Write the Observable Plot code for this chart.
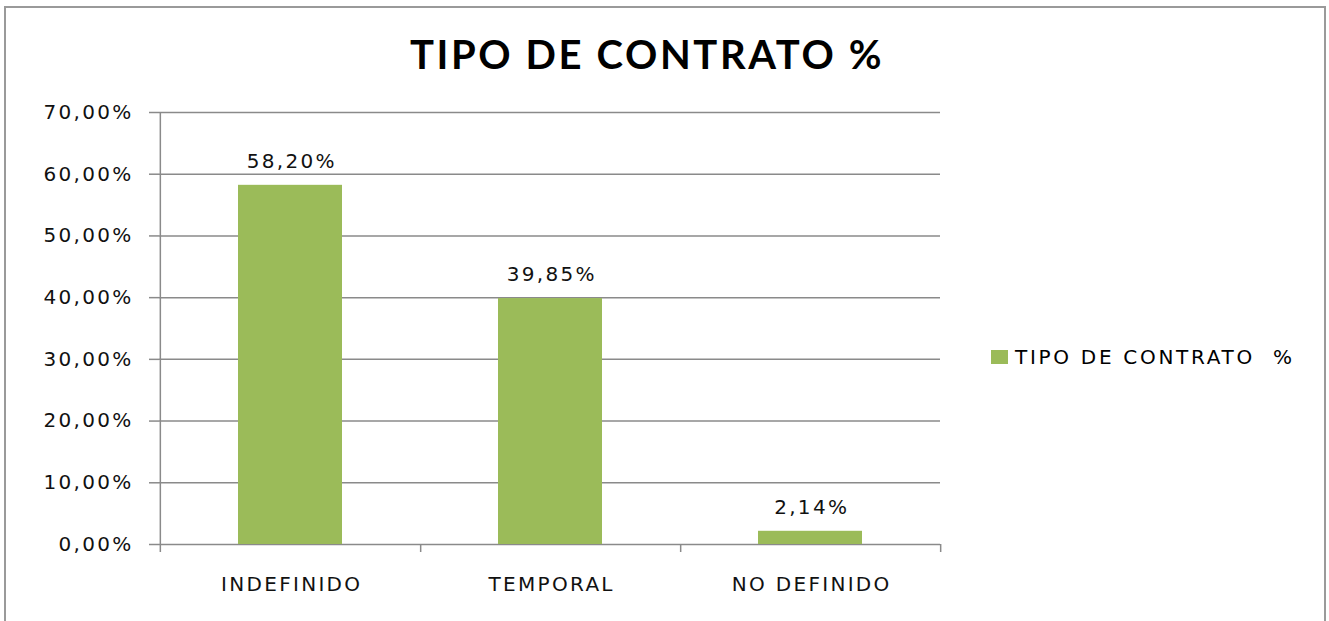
<!DOCTYPE html>
<html>
<head>
<meta charset="utf-8">
<script src="https://cdn.jsdelivr.net/npm/d3@7"></script>
<script src="https://cdn.jsdelivr.net/npm/@observablehq/plot@0.6"></script>
<style>
  html, body { margin: 0; padding: 0; background: #fff; }
  #wrap { position: relative; width: 1329px; height: 621px; overflow: hidden; }
  #border { position: absolute; left: 4px; top: 6px; width: 1322px; height: 640px; border: 2px solid #9a9a9a; box-sizing: border-box; }
  #title { position: absolute; left: 0; width: 1294px; top: 26px; text-align: center;
    font-family: Lato, sans-serif; font-weight: 700; font-size: 40px; letter-spacing: 2.6px; color: #000; line-height: 56px; }
  #legend { position: absolute; left: 991px; top: 345px; font-family: "DejaVu Sans", sans-serif; font-size: 20px;
    letter-spacing: 2.7px; color: #000; display: flex; align-items: center; white-space: pre; }
  #legend .sw { width: 17px; height: 14px; background: #9BBB59; margin-right: 7px; }
  #chart { position: absolute; left: 0; top: 0; }
  #chart text { letter-spacing: 2.3px; }
</style>
</head>
<body>
<div id="wrap">
  <div id="chart"></div>
  <div id="border"></div>
  <div id="title">TIPO DE CONTRATO %</div>
  <div id="legend"><span class="sw"></span><span>TIPO DE CONTRATO  %</span></div>
</div>
<script>
const categories = ["INDEFINIDO", "TEMPORAL", "NO DEFINIDO"];
const values = [58.20, 39.85, 2.14];
const yTicks = [0, 10, 20, 30, 40, 50, 60, 70];

const data = categories.map((c, i) => ({category: c, value: values[i]}));
const fmt = v => v.toFixed(2).replace(".", ",") + "%";

const W = 1329, H = 621;
const mL = 159, mR = W - 940, mT = 112, mB = H - 544;
const step = (W - mL - mR) / categories.length;
const plotH = H - mT - mB;
const gray = "#8a8a8a";

const chart = Plot.plot({
  width: W,
  height: H,
  marginLeft: mL,
  marginRight: mR,
  marginTop: mT,
  marginBottom: mB,
  style: {fontFamily: "DejaVu Sans, sans-serif", fontSize: "20px", color: "#111", background: "transparent"},
  x: {domain: categories, paddingInner: 0.6, paddingOuter: 0.3, label: null},
  y: {domain: [0, 70], label: null},
  marks: [
    Plot.ruleY(yTicks, {stroke: gray, strokeWidth: 1.5}),
    Plot.barY(data, {x: "category", y: "value", fill: "#9BBB59"}),
    Plot.ruleX([categories[0]], {dx: -step / 2, stroke: gray, strokeWidth: 1.5, insetBottom: -8}),
    Plot.ruleX(categories, {dx: step / 2, stroke: gray, strokeWidth: 1.5, insetTop: plotH, insetBottom: -8}),
    Plot.axisY({ticks: yTicks, tickFormat: fmt, tickSize: 10, tickPadding: 16, stroke: gray, strokeWidth: 1.5, fill: "#111"}),
    Plot.axisX({tickSize: 0, tickPadding: 32, dx: 1.2, fill: "#111"}),
    Plot.text(data, {x: "category", y: "value", text: d => fmt(d.value), dy: -24, dx: 1.2, fill: "#111"})
  ]
});
document.getElementById("chart").appendChild(chart);
</script>
</body>
</html>
